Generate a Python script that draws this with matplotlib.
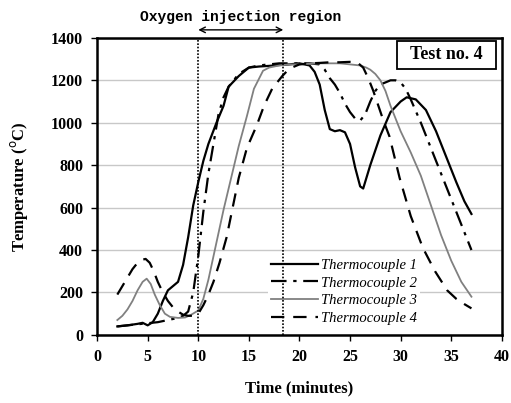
import matplotlib
matplotlib.use("Agg")
import matplotlib.pyplot as plt
from matplotlib.patches import Rectangle

t1 = [2, 3, 4, 4.5, 5, 5.5, 6, 6.5, 7, 7.5, 8, 8.5, 9, 9.5, 10, 10.5, 11, 11.8, 12.5, 13, 14, 15, 16, 17, 18, 19, 20, 21, 21.5, 22, 22.5, 23, 23.5, 24, 24.5, 25, 25.5, 26, 26.3, 27, 28, 29, 30, 30.6, 31.5, 32.5, 33.5, 34.5, 35.5, 36.3, 37]
T1 = [40, 45, 52, 57, 45, 60, 100, 160, 210, 230, 250, 330, 460, 610, 720, 820, 900, 1000, 1080, 1170, 1220, 1260, 1265, 1268, 1272, 1275, 1280, 1270, 1240, 1180, 1060, 970, 960, 965, 955, 900, 790, 700, 690, 800, 940, 1050, 1100, 1120, 1110, 1060, 960, 840, 720, 630, 570]

t2 = [2, 4, 6, 7, 8, 8.5, 9, 9.5, 10, 10.5, 11, 11.5, 12, 12.5, 13, 14, 15, 16, 17, 18, 19, 20, 21, 22, 22.5, 23, 23.5, 24, 24.5, 25, 25.5, 26, 26.5, 27, 27.5, 28, 29, 29.5, 30, 30.5, 31, 32, 33, 34, 35, 36, 37]
T2 = [40, 50, 60, 70, 80, 90, 110, 200, 370, 580, 760, 900, 1040, 1120, 1170, 1230, 1260, 1270, 1275, 1280, 1280, 1280, 1280, 1275, 1250, 1210, 1180, 1140, 1090, 1050, 1020, 1010, 1040, 1100, 1150, 1180, 1200, 1200, 1190, 1160, 1110, 1000, 880, 760, 640, 520, 400]

t3 = [2, 2.5, 3, 3.5, 4, 4.5, 4.9, 5.3, 5.7, 6.2, 6.7, 7.2, 8, 8.7, 9.3, 10, 10.5, 11, 11.5, 12, 12.5, 13, 13.5, 14, 14.8, 15.5, 16.4, 17, 18, 19, 20, 21, 22, 23, 24, 25, 26, 26.6, 27, 27.5, 28, 28.5, 29, 29.5, 30, 31, 32, 33, 34, 35, 36, 37]
T3 = [70, 90, 120, 160, 210, 250, 265, 240, 190, 140, 100, 85, 80, 82, 95, 115, 170, 260, 370, 480, 590, 690, 790, 890, 1030, 1160, 1245, 1260, 1270, 1275, 1275, 1278, 1280, 1280, 1280, 1275, 1270, 1260, 1250, 1230, 1200, 1150, 1080, 1020, 960, 860, 750, 610, 470, 350, 250, 180]

t4 = [2, 2.5, 3, 3.5, 4, 4.5, 4.8, 5.2, 5.6, 6, 6.5, 7, 7.5, 8, 8.5, 9, 9.5, 10, 10.5, 11, 11.5, 12.1, 12.8, 13.4, 14, 14.8, 15.8, 16.5, 17.3, 18.3, 19, 20, 21, 22, 23, 24, 25, 25.7, 26.3, 26.8, 27.3, 27.8, 28.3, 28.9, 29.9, 31, 32.2, 33.4, 34.6, 35.5, 36.3, 37]
T4 = [190, 230, 270, 310, 340, 355, 358, 340, 300, 250, 200, 160, 130, 110, 95, 90, 90, 100, 140, 190, 250, 340, 460, 600, 740, 880, 990, 1080, 1160, 1220, 1255, 1275, 1280, 1282, 1285, 1285, 1287, 1285, 1260, 1210, 1150, 1080, 1010, 935, 740, 560, 410, 300, 210, 170, 145, 125]

labels = ["Thermocouple 1", "Thermocouple 2", "Thermocouple 3", "Thermocouple 4"]
xticks = [0, 5, 10, 15, 20, 25, 30, 35, 40]
yticks = [0, 200, 400, 600, 800, 1000, 1200, 1400]
inj_start, inj_end = 10, 18.4

serif = ["Liberation Serif", "DejaVu Serif"]

fig = plt.figure(figsize=(5.11, 4.03), dpi=100)
ax = fig.add_axes([0.19, 0.169, 0.792, 0.737])

ax.plot(t1, T1, color="black", lw=1.6, label=labels[0])
ax.plot(t2, T2, color="black", lw=1.6, linestyle=(0, (7, 3, 1.5, 3)), label=labels[1])
ax.plot(t3, T3, color="#808080", lw=1.3, label=labels[2])
ax.plot(t4, T4, color="black", lw=1.6, linestyle=(0, (6, 4)), label=labels[3])

ax.axvline(inj_start, color="black", lw=1.2, linestyle=(0, (1, 1)), zorder=7)
ax.axvline(inj_end, color="black", lw=1.2, linestyle=(0, (1, 1)), zorder=7)

ax.set_xlim(0, 40)
ax.set_ylim(0, 1400)
ax.set_xticks(xticks)
ax.set_yticks(yticks)
ax.yaxis.grid(True, color="#c8c8c8", lw=1.0)
ax.set_axisbelow(True)
for s in ax.spines.values():
    s.set_linewidth(1.8)
    s.set_zorder(8)
ax.tick_params(direction="out", length=4, width=1, pad=6)
for lab in ax.get_xticklabels() + ax.get_yticklabels():
    lab.set_fontfamily(serif)
    lab.set_fontweight("bold")
    lab.set_fontsize(11.5)

ax.set_xlabel("Time (minutes)", fontfamily=serif, fontweight="bold", fontsize=12, labelpad=11)
ax.set_ylabel("Temperature ($^{\\rm o}$C)", fontfamily=serif, fontweight="bold", fontsize=12, labelpad=15)

# arrow for injection region
ax.annotate("", xy=(inj_start, 1.027), xycoords=("data", "axes fraction"),
            xytext=(inj_end, 1.027), textcoords=("data", "axes fraction"),
            arrowprops=dict(arrowstyle="<->", color="black", lw=1.0, shrinkA=0, shrinkB=0),
            annotation_clip=False)
ax.text((inj_start + inj_end) / 2, 1.047, "Oxygen injection region", transform=ax.get_xaxis_transform(),
        ha="center", va="bottom", fontfamily=["Liberation Mono", "DejaVu Sans Mono"],
        fontweight="bold", fontsize=10.5)

ax.add_patch(Rectangle((0.741, 0.896), 0.244, 0.094, transform=ax.transAxes,
                       facecolor="white", edgecolor="black", lw=1.3, zorder=5))
ax.text(0.863, 0.943, "Test no. 4", transform=ax.transAxes, ha="center", va="center",
        fontfamily=serif, fontweight="bold", fontsize=13, zorder=6)

leg = ax.legend(loc="lower left", bbox_to_anchor=(0.405, 0.0), frameon=True, fancybox=False,
                edgecolor="none", facecolor="white", framealpha=1,
                prop={"family": serif, "style": "italic", "size": 10.5},
                handlelength=3.2, handletextpad=0.2, labelspacing=0.3, borderpad=0.2)
leg.set_zorder(5)

fig.savefig("out.png", dpi=100)
